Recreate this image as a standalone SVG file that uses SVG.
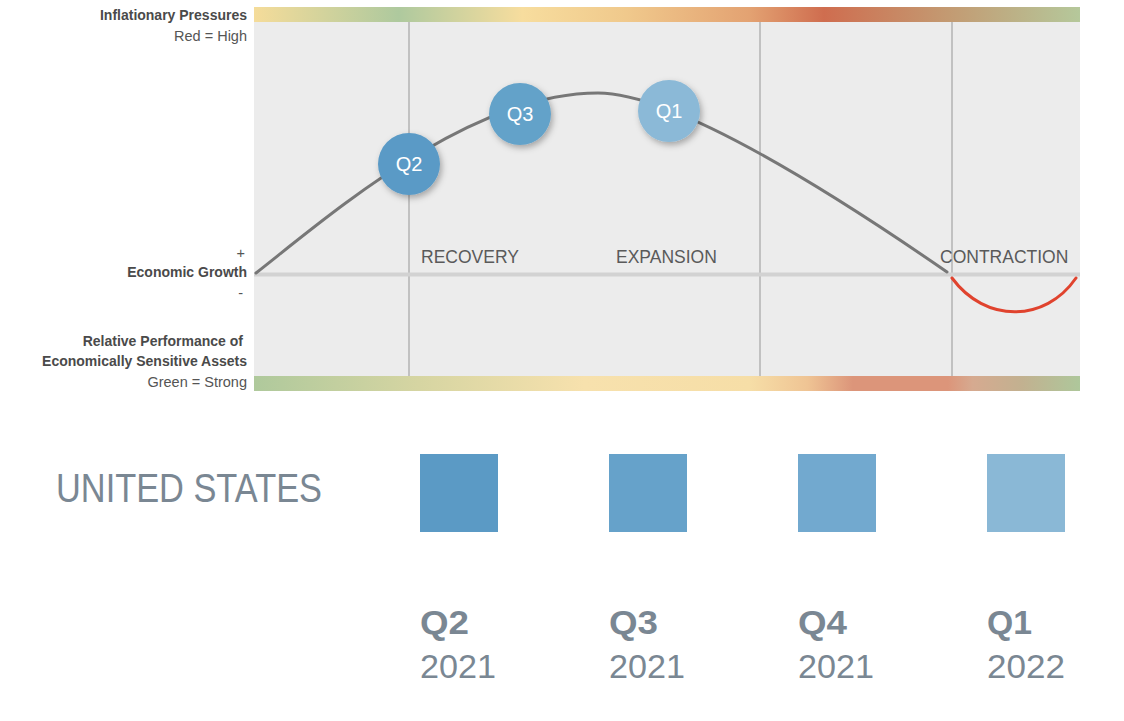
<svg xmlns="http://www.w3.org/2000/svg" width="1124" height="721" viewBox="0 0 1124 721">
  <style>
    .lb { font-family: "Liberation Sans", Arial, sans-serif; font-size: 14px; font-weight: bold; fill: #4a4a4a; text-anchor: end; }
    .lr { font-family: "Liberation Sans", Arial, sans-serif; font-size: 14.5px; fill: #555; text-anchor: end; }
    .phase { font-family: "Liberation Sans", Arial, sans-serif; font-size: 17.5px; fill: #5a5a5a; }
    .ctext { font-family: "Liberation Sans", Arial, sans-serif; font-size: 20px; fill: #fff; text-anchor: middle; }
    .q { font-family: "Liberation Sans", Arial, sans-serif; font-size: 33px; font-weight: bold; fill: #7a8793; }
    .yr { font-family: "Liberation Sans", Arial, sans-serif; font-size: 34px; fill: #7a8793; }
    .vline { stroke: #b3b3b3; stroke-width: 1.5; }
  </style>
  <defs>
    <linearGradient id="gTop" x1="254" y1="0" x2="1080" y2="0" gradientUnits="userSpaceOnUse">
      <stop offset="0" stop-color="#f5dc9a"/>
      <stop offset="0.175" stop-color="#aec99e"/>
      <stop offset="0.325" stop-color="#f7dd9e"/>
      <stop offset="0.45" stop-color="#f0c98c"/>
      <stop offset="0.6" stop-color="#e3a272"/>
      <stop offset="0.69" stop-color="#cf6d4f"/>
      <stop offset="0.84" stop-color="#c39a72"/>
      <stop offset="1" stop-color="#b5c89b"/>
    </linearGradient>
    <linearGradient id="gBot" x1="254" y1="0" x2="1080" y2="0" gradientUnits="userSpaceOnUse">
      <stop offset="0" stop-color="#afc99c"/>
      <stop offset="0.2" stop-color="#d6d5a2"/>
      <stop offset="0.4" stop-color="#f7e1ad"/>
      <stop offset="0.6" stop-color="#f6dea7"/>
      <stop offset="0.67" stop-color="#efc494"/>
      <stop offset="0.725" stop-color="#dc957a"/>
      <stop offset="0.84" stop-color="#dc957a"/>
      <stop offset="0.87" stop-color="#d6aa90"/>
      <stop offset="0.93" stop-color="#c2b190"/>
      <stop offset="1" stop-color="#aec79b"/>
    </linearGradient>
    <filter id="shadow" x="-30%" y="-30%" width="170%" height="170%">
      <feDropShadow dx="2" dy="3" stdDeviation="3" flood-color="#000" flood-opacity="0.3"/>
    </filter>
  </defs>

  <!-- chart background -->
  <g id="chart">
    <rect x="254" y="22" width="826" height="354" fill="#ececec"/>
    <rect x="254" y="7" width="826" height="15" fill="url(#gTop)"/>
    <rect x="254" y="376" width="826" height="15" fill="url(#gBot)"/>
    <line class="vline" x1="409" y1="22" x2="409" y2="376"/>
    <line class="vline" x1="760" y1="22" x2="760" y2="376"/>
    <line class="vline" x1="952" y1="22" x2="952" y2="376"/>
    <line x1="254" y1="274.5" x2="1080" y2="274.5" stroke="#d2d2d2" stroke-width="4"/>
  </g>

  <!-- axis labels -->
  <g id="labels">
    <text class="lb" x="247" y="20">Inflationary Pressures</text>
    <text class="lr" x="247" y="41">Red = High</text>
    <text class="lr" x="245" y="258">+</text>
    <text class="lb" x="247" y="277">Economic Growth</text>
    <text class="lr" x="243" y="298">-</text>
    <text class="lb" x="243" y="346">Relative Performance of</text>
    <text class="lb" x="247" y="366">Economically Sensitive Assets</text>
    <text class="lr" x="247" y="387">Green = Strong</text>
    <text class="phase" x="421" y="263">RECOVERY</text>
    <text class="phase" x="616" y="263">EXPANSION</text>
    <text class="phase" x="940" y="263">CONTRACTION</text>
  </g>

  <!-- connectors / curves -->
  <g id="connectors" fill="none" stroke-linecap="round">
    <path d="M256,273 C330,215 470,93 598,93 C680,93 850,205 947,272" stroke="#777" stroke-width="3"/>
    <path d="M952,278 C985,323 1045,323 1076,278" stroke="#e0432e" stroke-width="3"/>
  </g>

  <!-- nodes -->
  <g id="node-q2">
    <circle cx="409" cy="164" r="31" fill="#5a9ac6" filter="url(#shadow)"/>
    <text class="ctext" x="409" y="171">Q2</text>
  </g>
  <g id="node-q3">
    <circle cx="520" cy="114" r="31" fill="#64a2c9" filter="url(#shadow)"/>
    <text class="ctext" x="520" y="121">Q3</text>
  </g>
  <g id="node-q1">
    <circle cx="669" cy="111" r="31" fill="#8bb9d7" filter="url(#shadow)"/>
    <text class="ctext" x="669" y="118">Q1</text>
  </g>

  <!-- bottom legend -->
  <g id="country">
    <text x="56" y="502" font-family="'Liberation Sans', Arial, sans-serif" font-size="41" fill="#7a8793" textLength="266" lengthAdjust="spacingAndGlyphs">UNITED STATES</text>
  </g>
  <g id="sq-q2">
    <rect x="420" y="454" width="78" height="78" fill="#5b9ac5"/>
    <text class="q" x="420" y="634" textLength="49" lengthAdjust="spacingAndGlyphs">Q2</text>
    <text class="yr" x="420" y="678" textLength="76" lengthAdjust="spacingAndGlyphs">2021</text>
  </g>
  <g id="sq-q3">
    <rect x="609" y="454" width="78" height="78" fill="#66a2ca"/>
    <text class="q" x="609" y="634" textLength="49" lengthAdjust="spacingAndGlyphs">Q3</text>
    <text class="yr" x="609" y="678" textLength="76" lengthAdjust="spacingAndGlyphs">2021</text>
  </g>
  <g id="sq-q4">
    <rect x="798" y="454" width="78" height="78" fill="#72a9cf"/>
    <text class="q" x="798" y="634" textLength="49" lengthAdjust="spacingAndGlyphs">Q4</text>
    <text class="yr" x="798" y="678" textLength="76" lengthAdjust="spacingAndGlyphs">2021</text>
  </g>
  <g id="sq-q1">
    <rect x="987" y="454" width="78" height="78" fill="#8ab8d6"/>
    <text class="q" x="987" y="634" textLength="45" lengthAdjust="spacingAndGlyphs">Q1</text>
    <text class="yr" x="987" y="678" textLength="78" lengthAdjust="spacingAndGlyphs">2022</text>
  </g>
</svg>
